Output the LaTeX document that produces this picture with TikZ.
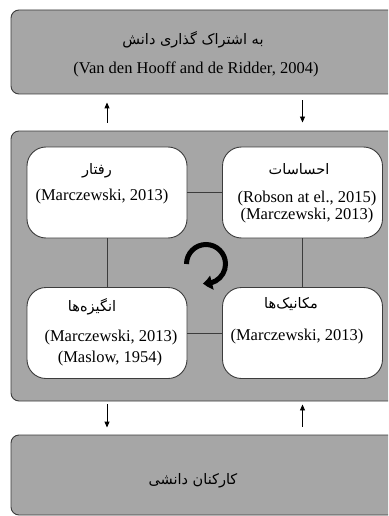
\documentclass[tikz,border=0pt]{standalone}
\usepackage{fontspec}
\setmainfont{Liberation Serif}
\newfontfamily\fa[Script=Arabic]{DejaVu Sans}
\TeXXeTstate=1
\usetikzlibrary{arrows.meta,bending}
\definecolor{boxgray}{HTML}{A6A6A6}
\definecolor{edge}{HTML}{3C3C3C}
\tikzset{
  bigbox/.style={draw=edge, line width=0.9pt, fill=boxgray, rounded corners=8pt, minimum width=389pt, inner sep=0pt},
  innerbox/.style={draw=edge, line width=0.9pt, fill=white, rounded corners=19pt, minimum width=160pt, minimum height=91pt, inner sep=0pt},
  fatext/.style={inner sep=0pt, font=\fa\fontsize{14.5}{16}\selectfont},
  cite/.style={inner sep=0pt, font=\fontsize{16.5}{18}\selectfont},
  link/.style={draw=edge, line width=0.9pt},
  flow/.style={draw=black, line width=0.9pt, -{Triangle[length=6pt,width=5pt]}},
}
\begin{document}
\begin{tikzpicture}[x=1pt,y=-1pt]
\useasboundingbox (0,0) rectangle (388,516);
\clip (0,0) rectangle (388,516);
\fill[white] (0,0) rectangle (388,516);
% big boxes
\node[bigbox, minimum height=84pt] (share) at (205.5,52) {};
\node[bigbox, minimum height=270pt] (core) at (205.5,266) {};
\node[bigbox, minimum height=80pt] (staff) at (205.5,475) {};
% inner boxes
\node[innerbox] (beh) at (107,192.5) {};
\node[innerbox] (feel) at (302.5,192.5) {};
\node[innerbox] (mot) at (107,333) {};
\node[innerbox] (mech) at (302.5,333) {};
% links
\draw[link] (beh.east) -- (feel.west);
\draw[link] (mot.east) -- (mech.west);
\draw[link] (beh.south) -- (mot.north);
\draw[link] (feel.south) -- (mech.north);
% flows
\draw[flow, shorten <=8pt, shorten >=8pt] (beh.north |- core.north) -- (beh.north |- share.south);
\draw[flow, shorten <=6pt, shorten >=8pt] (feel.north |- share.south) -- (feel.north |- core.north);
\draw[flow, shorten <=3pt, shorten >=7pt] (mot.south |- core.south) -- (mot.south |- staff.north);
\draw[flow, shorten <=8pt, shorten >=3pt] (mech.south |- staff.north) -- (mech.south |- core.south);
% texts
\node[fatext] (t1) at (193,40) {\beginR به اشتراک گذاری دانش\endR};
\node[cite] (t2) at (196,69) {(Van den Hooff and de Ridder, 2004)};
\node[fatext] (t3) at (97,171) {\beginR رفتار\endR};
\node[cite] (t4) at (102,197) {(Marczewski, 2013)};
\node[fatext] (t5) at (299,169) {\beginR احساسات\endR};
\node[cite] (t6) at (307,199) {(Robson at el., 2015)};
\node[cite] (t7) at (307,216) {(Marczewski, 2013)};
\node[fatext] (t8) at (92,307) {\beginR انگیزه‌ها\endR};
\node[cite] (t9) at (111,338) {(Marczewski, 2013)};
\node[cite] (t10) at (110,359) {(Maslow, 1954)};
\node[fatext] (t11) at (291,304) {\beginR مکانیک‌ها\endR};
\node[cite] (t12) at (297,337) {(Marczewski, 2013)};
\node[fatext] (t13) at (193,481) {\beginR کارکنان دانشی\endR};
% cycle arrow
\draw[line width=5pt, -{Triangle[length=9pt,width=14pt,bend]}] (186.5,264) arc[start angle=180, end angle=459, radius=19.5];
\end{tikzpicture}
\end{document}
